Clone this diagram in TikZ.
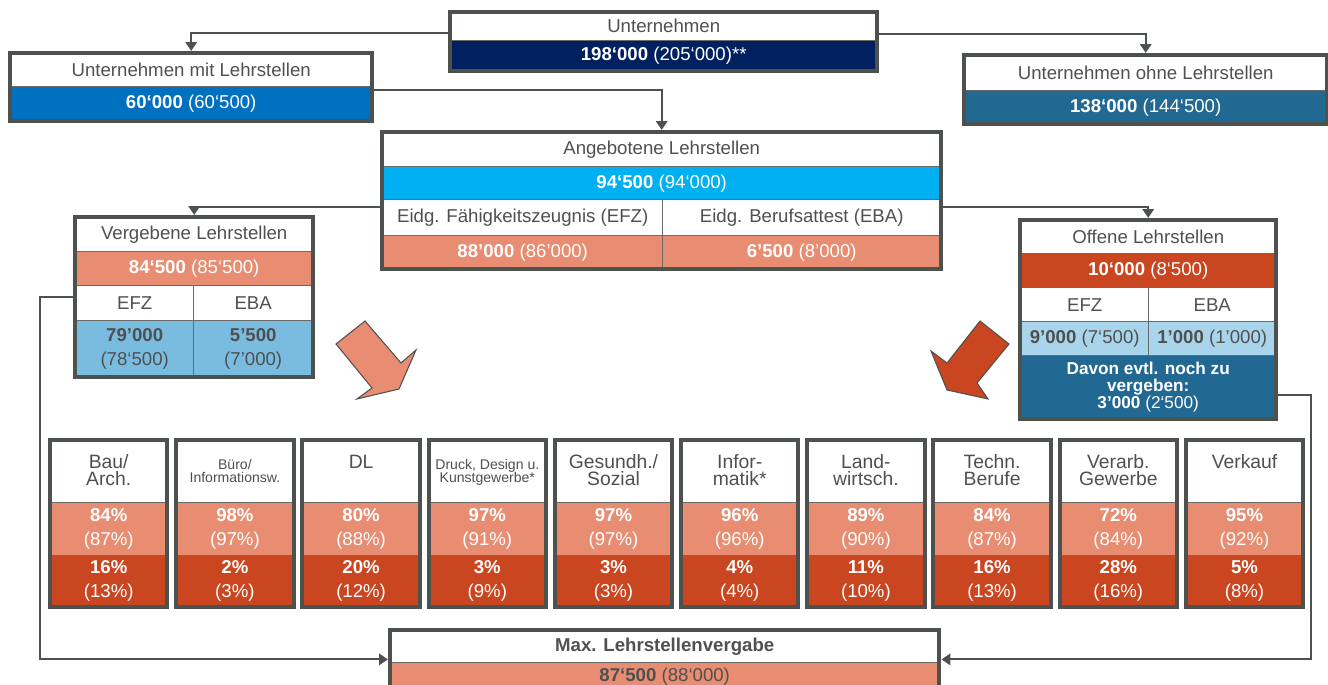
\documentclass[tikz,border=0pt]{standalone}
\usepackage{fontspec}
\setmainfont{Liberation Sans}
\usetikzlibrary{positioning,arrows.meta}

\definecolor{navy}{RGB}{0,32,96}
\definecolor{mittelblau}{RGB}{0,112,192}
\definecolor{petrol}{RGB}{33,104,146}
\definecolor{hellcyan}{RGB}{0,176,240}
\definecolor{lachs}{RGB}{232,140,114}
\definecolor{rost}{RGB}{201,70,32}
\definecolor{eisblau}{RGB}{122,188,224}
\definecolor{hellblau}{RGB}{168,213,236}
\definecolor{linie}{RGB}{78,82,79}
\definecolor{schrift}{RGB}{80,80,80}

\begin{document}
\begin{tikzpicture}
   [
    x=0.02cm, y=-0.02cm,
    every node/.style={font=\fontsize{10.6}{12}\selectfont, text=schrift, inner sep=0pt},
    feld/.style 2 args={rectangle, draw=linie!85, line width=0.8pt, fill=white,
                        anchor=north west, minimum width=#1*0.02cm, minimum height=#2*0.02cm},
    weiss/.style={text=white},
    zweizeilig/.style={align=center, font=\fontsize{10.6}{13.8}\selectfont},
    titelgross/.style={align=center, font=\fontsize{11}{9.6}\selectfont, yshift=-0.29cm},
    titelklein/.style={align=center, font=\fontsize{8}{7.6}\selectfont, yshift=-0.37cm},
    rahmen/.style={draw=linie, line width=2.3pt},
    pfeil/.style={draw=linie, line width=1.1pt, shorten >=1.2pt,
                  -{Triangle[length=5pt,width=6.5pt]}},
    block/.style={fill=#1, draw=linie, line width=0.6pt}
    ]

\useasboundingbox (0,0) rectangle (1328,685);

% Unternehmen
\node[feld={426}{28}] (unt-kopf) at (450,12) {\raisebox{1.5pt}{Unternehmen}};
\node[feld={426}{30}, fill=navy, weiss] (unt-wert) at (450,40) {\textbf{198‘000} (205‘000)**};
\draw[rahmen] (unt-kopf.north west) rectangle (unt-wert.south east);

% mit / ohne Lehrstellen
\node[feld={361}{33}] (mit-kopf) at (10,53) {Unternehmen mit Lehrstellen};
\node[feld={361}{34}, fill=mittelblau, weiss] (mit-wert) at (10,86) {\textbf{60‘000} (60‘500)};
\draw[rahmen] (mit-kopf.north west) rectangle (mit-wert.south east);

\node[feld={362}{35}] (ohne-kopf) at (964,55) {Unternehmen ohne Lehrstellen};
\node[feld={362}{33}, fill=petrol, weiss] (ohne-wert) at (964,90) {\textbf{138‘000} (144‘500)};
\draw[rahmen] (ohne-kopf.north west) rectangle (ohne-wert.south east);

% Angebotene Lehrstellen
\node[feld={558}{34}] (ang-kopf) at (382,132) {Angebotene Lehrstellen};
\node[feld={558}{33}, fill=hellcyan, weiss] (ang-wert) at (382,166) {\textbf{94‘500} (94‘000)};
\node[feld={280}{36}] (ang-efz) at (382,199) {Eidg. Fähigkeitszeugnis (EFZ)};
\node[feld={278}{36}] (ang-eba) at (662,199) {Eidg. Berufsattest (EBA)};
\node[feld={280}{33}, fill=lachs, weiss] (ang-efzwert) at (382,235) {\textbf{88’000} (86’000)};
\node[feld={278}{33}, fill=lachs, weiss] (ang-ebawert) at (662,235) {\textbf{6’500} (8’000)};
\draw[rahmen] (ang-kopf.north west) rectangle (ang-ebawert.south east);

% Vergebene Lehrstellen
\node[feld={237}{34}] (ver-kopf) at (75,217) {Vergebene Lehrstellen};
\node[feld={237}{34}, fill=lachs, weiss] (ver-wert) at (75,251) {\textbf{84‘500} (85‘500)};
\node[feld={118}{35}] (ver-efz) at (75,285) {EFZ};
\node[feld={119}{35}] (ver-eba) at (193,285) {EBA};
\node[feld={118}{56}, fill=eisblau, zweizeilig] (ver-efzwert) at (75,320) {\textbf{79’000}\\(78‘500)};
\node[feld={119}{56}, fill=eisblau, zweizeilig] (ver-ebawert) at (193,320) {\textbf{5’500}\\(7’000)};
\draw[rahmen] (ver-kopf.north west) rectangle (ver-ebawert.south east);

% Offene Lehrstellen
\node[feld={255}{33}] (off-kopf) at (1020,220) {Offene Lehrstellen};
\node[feld={255}{34}, fill=rost, weiss] (off-wert) at (1020,253) {\textbf{10‘000} (8‘500)};
\node[feld={128}{34}] (off-efz) at (1020,287) {EFZ};
\node[feld={127}{34}] (off-eba) at (1148,287) {EBA};
\node[feld={128}{34}, fill=hellblau] (off-efzwert) at (1020,321) {\textbf{9’000} (7‘500)};
\node[feld={127}{34}, fill=hellblau] (off-ebawert) at (1148,321) {\textbf{1’000} (1’000)};
\node[feld={255}{63}, fill=petrol, weiss, align=center,
      font=\fontsize{9.8}{9.8}\selectfont\bfseries] (off-davon) at (1020,355)
      {Davon evtl. noch zu\\vergeben:\\3’000 \textmd{(2‘500)}};
\draw[rahmen] (off-kopf.north west) rectangle (off-davon.south east);

% Pfeile zu den Berufsfeldern
\filldraw[block=lachs] (336,344) -- (365,321) -- (401,363) -- (416,350)
    -- (399,389) -- (357,399) -- (372,388) -- cycle;
\filldraw[block=rost] (980,321) -- (1009,344) -- (977,383) -- (988,399)
    -- (947,390) -- (931,351) -- (947,363) -- cycle;

% Berufsfelder
\foreach \kurz/\art/\titel/\ja/\jav/\nein/\neinv [count=\i from 0] in {
    bau/titelgross/{Bau/\\Arch.}/84/87/16/13,
    buero/titelklein/{Büro/\\Informationsw.}/98/97/2/3,
    dl/titelgross/DL/80/88/20/12,
    druck/titelklein/{Druck, Design u.\\Kunstgewerbe*}/97/91/3/9,
    gesund/titelgross/{Gesundh./\\Sozial}/97/97/3/3,
    info/titelgross/{Infor-\\matik*}/96/96/4/4,
    land/titelgross/{Land-\\wirtsch.}/89/90/11/10,
    techn/titelgross/{Techn.\\Berufe}/84/87/16/13,
    verarb/titelgross/{Verarb.\\Gewerbe}/72/84/28/16,
    verkauf/titelgross/Verkauf/95/92/5/8}
{
  \node[feld={116}{62}] (\kurz-kopf) at (50+126.2*\i,440) {};
  \node[\art, below=0cm of \kurz-kopf.north] (\kurz-titel) {\titel};
  \node[feld={116}{53}, fill=lachs, weiss, zweizeilig] (\kurz-ja) at (50+126.2*\i,502)
      {\textbf{\ja\%}\\(\jav\%)};
  \node[feld={116}{51}, fill=rost, weiss, zweizeilig] (\kurz-nein) at (50+126.2*\i,555)
      {\textbf{\nein\%}\\(\neinv\%)};
  \draw[rahmen] (\kurz-kopf.north west) rectangle (\kurz-nein.south east);
}

% Max. Lehrstellenvergabe
\node[feld={548}{32}, font=\fontsize{10.6}{12}\selectfont\bfseries] (max-kopf) at (390,630)
    {Max. Lehrstellenvergabe};
\node[feld={548}{28}, fill=lachs] (max-wert) at (390,662) {\textbf{87‘500} (88‘000)};
\draw[rahmen] (max-kopf.north west) rectangle (max-wert.south east);

% Verbindungen
\draw[pfeil] ([yshift=0.16cm]unt-kopf.south west) -| (mit-kopf.north);
\draw[pfeil] ([yshift=0.14cm]unt-kopf.south east) -| (ohne-kopf.north);
\draw[pfeil] ([yshift=-0.08cm]mit-wert.north east) -| (ang-kopf.north);
\draw[pfeil] ([yshift=-0.16cm]ang-efz.north west) -| (ver-kopf.north);
\draw[pfeil] ([yshift=-0.16cm]ang-eba.north east) -| (off-kopf.north);
\draw[pfeil] ([yshift=-0.24cm]ver-efz.north west) -- ++(-35,0)
    |- ([yshift=0.08cm]max-kopf.south west);
\draw[pfeil] ([yshift=-0.8cm]off-davon.north east) -- ++(35,0)
    |- ([yshift=0.08cm]max-kopf.south east);

\end{tikzpicture}
\end{document}
